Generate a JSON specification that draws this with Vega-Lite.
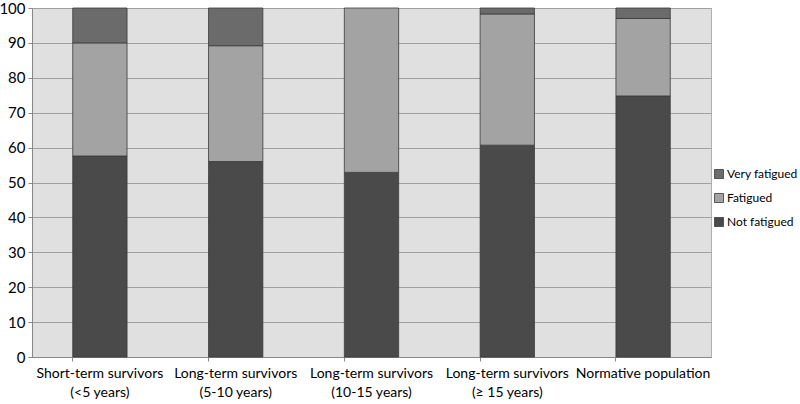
{
  "$schema": "https://vega.github.io/schema/vega-lite/v6.json",
  "width": 679,
  "height": 349,
  "autosize": {"type": "none"},
  "padding": {"left": 32, "top": 8, "right": 89, "bottom": 47},
  "background": "white",
  "config": {
    "view": {"fill": "#e0e0e0", "stroke": "#b0b0b0"},
    "font": "Lato"
  },
  "data": {
    "values": [
      {"group": "Short-term survivors|(<5 years)", "status": "Not fatigued", "rank": 1, "pct": 57.6},
      {"group": "Short-term survivors|(<5 years)", "status": "Fatigued", "rank": 2, "pct": 32.4},
      {"group": "Short-term survivors|(<5 years)", "status": "Very fatigued", "rank": 3, "pct": 10.0},
      {"group": "Long-term survivors|(5-10 years)", "status": "Not fatigued", "rank": 1, "pct": 56.0},
      {"group": "Long-term survivors|(5-10 years)", "status": "Fatigued", "rank": 2, "pct": 33.2},
      {"group": "Long-term survivors|(5-10 years)", "status": "Very fatigued", "rank": 3, "pct": 10.8},
      {"group": "Long-term survivors|(10-15 years)", "status": "Not fatigued", "rank": 1, "pct": 52.9},
      {"group": "Long-term survivors|(10-15 years)", "status": "Fatigued", "rank": 2, "pct": 47.1},
      {"group": "Long-term survivors|(≥ 15 years)", "status": "Not fatigued", "rank": 1, "pct": 60.7},
      {"group": "Long-term survivors|(≥ 15 years)", "status": "Fatigued", "rank": 2, "pct": 37.6},
      {"group": "Long-term survivors|(≥ 15 years)", "status": "Very fatigued", "rank": 3, "pct": 1.7},
      {"group": "Normative population", "status": "Not fatigued", "rank": 1, "pct": 74.8},
      {"group": "Normative population", "status": "Fatigued", "rank": 2, "pct": 22.2},
      {"group": "Normative population", "status": "Very fatigued", "rank": 3, "pct": 3.0}
    ]
  },
  "mark": {"type": "bar", "stroke": "#3a3a3a", "strokeWidth": 0.8},
  "encoding": {
    "x": {
      "field": "group",
      "type": "nominal",
      "sort": null,
      "title": null,
      "scale": {"paddingInner": 0.6, "paddingOuter": 0.3},
      "axis": {
        "labelExpr": "split(datum.label, '|')",
        "labelAngle": 0,
        "labelFontSize": 14,
        "labelColor": "#000000",
        "labelPadding": 5,
        "labelLineHeight": 19,
        "labelOverlap": false,
        "bandPosition": 0,
        "tickColor": "#888888",
        "tickSize": 4,
        "domainColor": "#888888",
        "grid": false
      }
    },
    "y": {
      "field": "pct",
      "type": "quantitative",
      "stack": "zero",
      "title": null,
      "scale": {"domain": [0, 100], "nice": false},
      "axis": {
        "values": [0, 10, 20, 30, 40, 50, 60, 70, 80, 90, 100],
        "labelFontSize": 15,
        "labelColor": "#000000",
        "labelPadding": 3,
        "tickColor": "#888888",
        "tickSize": 4,
        "domainColor": "#888888",
        "gridColor": "#a0a0a0",
        "gridWidth": 1.2
      }
    },
    "order": {"field": "rank", "type": "quantitative"},
    "color": {
      "field": "status",
      "type": "nominal",
      "sort": ["Very fatigued", "Fatigued", "Not fatigued"],
      "scale": {
        "domain": ["Very fatigued", "Fatigued", "Not fatigued"],
        "range": ["#6b6b6b", "#a3a3a3", "#4a4a4a"]
      },
      "legend": {
        "title": null,
        "orient": "none",
        "legendX": 681,
        "legendY": 160,
        "symbolType": "square",
        "symbolSize": 81,
        "symbolStrokeColor": "#3a3a3a",
        "symbolStrokeWidth": 0.8,
        "labelFontSize": 12,
        "labelColor": "#000000",
        "rowPadding": 10,
        "labelOffset": 2
      }
    }
  }
}
